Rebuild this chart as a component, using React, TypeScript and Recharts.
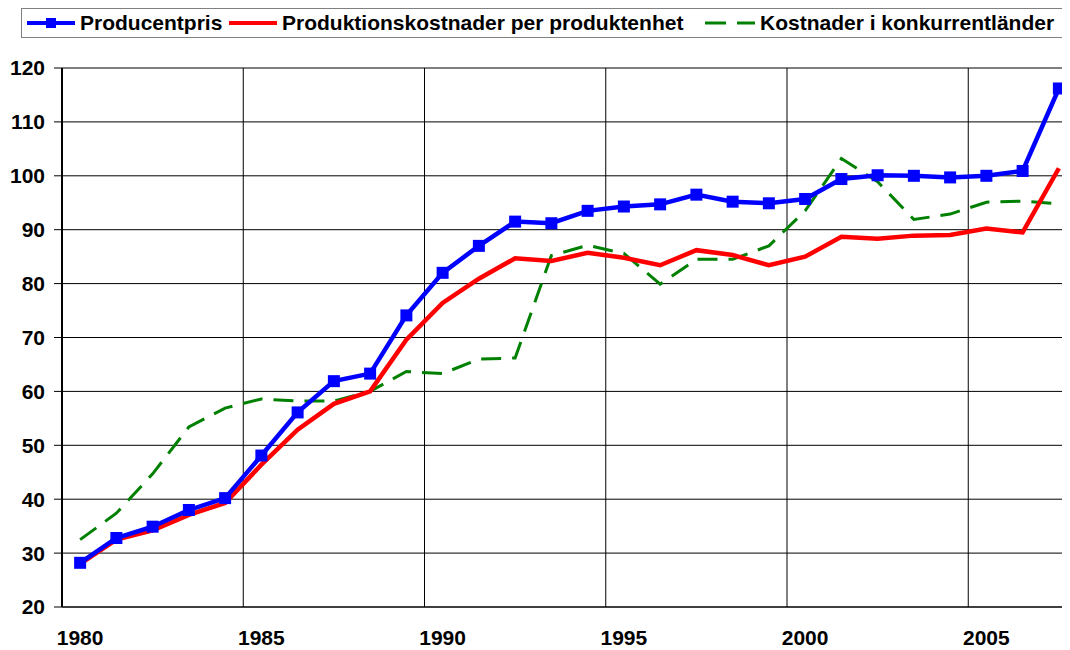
import React from 'react';
import { LineChart, Line, XAxis, YAxis, CartesianGrid, Legend } from 'recharts';

const years = [
  1980, 1981, 1982, 1983, 1984, 1985, 1986, 1987, 1988, 1989,
  1990, 1991, 1992, 1993, 1994, 1995, 1996, 1997, 1998, 1999,
  2000, 2001, 2002, 2003, 2004, 2005, 2006, 2007,
];

const producentpris = [
  28.2, 32.8, 34.9, 38.0, 40.2, 48.1, 56.1, 61.9, 63.3, 74.1,
  82.0, 87.0, 91.5, 91.2, 93.5, 94.3, 94.7, 96.5, 95.2, 94.9,
  95.7, 99.4, 100.1, 100.0, 99.7, 100.0, 100.9, 116.2,
];

const produktionskostnader = [
  28.0, 32.5, 34.2, 37.1, 39.3, 46.4, 52.9, 57.7, 60.0, 69.6,
  76.4, 80.9, 84.7, 84.2, 85.7, 84.8, 83.4, 86.2, 85.3, 83.4,
  85.0, 88.7, 88.3, 88.9, 89.0, 90.2, 89.5, 101.4,
];

const konkurrentlander = [
  32.5, 37.4, 44.7, 53.4, 56.9, 58.6, 58.2, 58.2, 60.0, 63.7,
  63.3, 66.0, 66.2, 85.2, 87.1, 85.6, 79.9, 84.5, 84.5, 87.0,
  93.5, 103.2, 98.9, 91.9, 92.9, 95.1, 95.3, 94.8,
];

const seriesNames = [
  'Producentpris',
  'Produktionskostnader per produktenhet',
  'Kostnader i konkurrentländer',
];
const seriesColors = ['#0000FF', '#FF0000', '#008000'];

const xLabelTicks = [1980, 1985, 1990, 1995, 2000, 2005];
const xBoundaryTicks = [1979.5, 1984.5, 1989.5, 1994.5, 1999.5, 2004.5];
const xDomain = [1979.5, 2007.5];
const yTicks = [20, 30, 40, 50, 60, 70, 80, 90, 100, 110, 120];

const data = years.map((year, i) => ({
  year,
  p: producentpris[i],
  k: produktionskostnader[i],
  c: konkurrentlander[i],
}));

const FONT = '"Liberation Sans", Arial, Helvetica, sans-serif';

const SquareDot = (props: any) => {
  const { cx, cy } = props;
  if (cx == null || cy == null) return null;
  return <rect x={cx - 6} y={cy - 6} width={12} height={12} fill={seriesColors[0]} />;
};

const LegendBox = () => {
  const itemWidths = [202, 476, undefined];
  const icons = [
    <svg width={48} height={14} style={{ display: 'block' }}>
      <line x1={0} y1={7} x2={48} y2={7} stroke={seriesColors[0]} strokeWidth={4} />
      <rect x={19} y={2} width={10} height={10} fill={seriesColors[0]} />
    </svg>,
    <svg width={48} height={14} style={{ display: 'block' }}>
      <line x1={0} y1={7} x2={48} y2={7} stroke={seriesColors[1]} strokeWidth={4} />
    </svg>,
    <svg width={50} height={14} style={{ display: 'block' }}>
      <line x1={0} y1={7} x2={50} y2={7} stroke={seriesColors[2]} strokeWidth={3} strokeDasharray="21 11" />
    </svg>,
  ];
  return (
    <div
      style={{
        boxSizing: 'border-box',
        width: 1042,
        height: 30,
        border: '1px solid #808080',
        display: 'flex',
        alignItems: 'center',
        paddingLeft: 5,
        fontFamily: FONT,
        fontWeight: 'bold',
        fontSize: 21,
        color: '#000',
        whiteSpace: 'nowrap',
        background: '#fff',
      }}
    >
      {seriesNames.map((name, i) => (
        <div
          key={name}
          style={{
            display: 'flex',
            alignItems: 'center',
            width: itemWidths[i],
            flex: 'none',
          }}
        >
          {icons[i]}
          <span style={{ marginLeft: 5, lineHeight: '24px' }}>{name}</span>
        </div>
      ))}
    </div>
  );
};

const tickStyle = { fill: '#000', fontSize: 21, fontWeight: 'bold', fontFamily: FONT };

export default function App() {
  return (
    <div style={{ width: 1062, height: 642, overflow: 'hidden', position: 'relative' }}>
      <LineChart
        width={1069}
        height={642}
        data={data}
        margin={{ top: 30, right: 0, bottom: 0, left: 0 }}
        style={{ fontFamily: FONT }}
      >
        <CartesianGrid
          stroke="#000"
          strokeWidth={1}
          verticalValues={xBoundaryTicks}
        />
        <XAxis
          xAxisId="bounds"
          dataKey="year"
          type="number"
          domain={xDomain}
          ticks={xBoundaryTicks}
          tick={false}
          tickLine={{ stroke: '#000' }}
          tickSize={7}
          axisLine={false}
          height={0}
          allowDecimals
        />
        <XAxis
          dataKey="year"
          type="number"
          domain={xDomain}
          ticks={xLabelTicks}
          interval={0}
          tickLine={false}
          tickSize={0}
          tickMargin={23}
          axisLine={{ stroke: '#000', strokeWidth: 1 }}
          tick={tickStyle}
          height={43}
        />
        <YAxis
          type="number"
          domain={[20, 120]}
          ticks={yTicks}
          interval={0}
          width={54}
          tickSize={8}
          tickMargin={9}
          tickLine={{ stroke: '#000' }}
          axisLine={{ stroke: '#000', strokeWidth: 2 }}
          tick={tickStyle}
        />
        <Legend
          verticalAlign="top"
          content={() => <LegendBox />}
          wrapperStyle={{ top: 0, left: 13, width: 1042, height: 30 }}
        />
        <Line
          dataKey="c"
          name={seriesNames[2]}
          stroke={seriesColors[2]}
          strokeWidth={3}
          strokeDasharray="20 11"
          dot={false}
          activeDot={false}
          isAnimationActive={false}
          strokeLinejoin="miter"
        />
        <Line
          dataKey="k"
          name={seriesNames[1]}
          stroke={seriesColors[1]}
          strokeWidth={4.5}
          dot={false}
          activeDot={false}
          isAnimationActive={false}
        />
        <Line
          dataKey="p"
          name={seriesNames[0]}
          stroke={seriesColors[0]}
          strokeWidth={4.5}
          dot={<SquareDot />}
          activeDot={false}
          isAnimationActive={false}
        />
      </LineChart>
    </div>
  );
}
